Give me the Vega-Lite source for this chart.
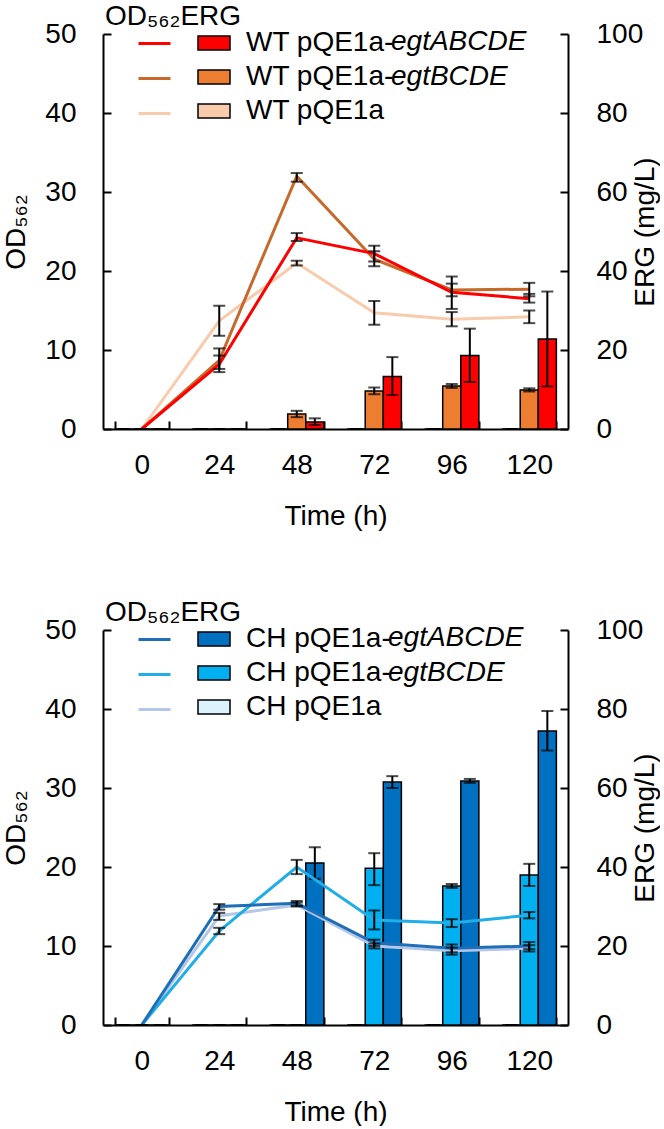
{
  "$schema": "https://vega.github.io/schema/vega-lite/v6.json",
  "padding": {"left": 2, "top": 3, "right": 0, "bottom": 0},
  "config": {
    "font": "Liberation Sans",
    "view": {"stroke": null},
    "axis": {"labelFont": "Liberation Sans", "labelFontSize": 28, "labelColor": "black", "titleFont": "Liberation Sans", "titleFontSize": 28, "titleFontWeight": "normal", "titleColor": "black", "domainColor": "black", "domainWidth": 2, "tickColor": "black", "tickWidth": 2, "grid": false, "labelOverlap": false},
    "legend": {"labelFont": "Liberation Sans", "titleFont": "Liberation Sans", "labelFontSize": 28, "titleFontSize": 28, "titleFontWeight": "normal", "labelColor": "black", "titleColor": "black", "padding": 0, "rowPadding": 3, "labelLimit": 400, "titleLimit": 400}
  },
  "datasets": {
    "wt_erg": [
      {"time": 0, "strain": "WT pQE1a", "gene": "WT control", "erg": 0, "lo": 0, "hi": 0},
      {"time": 0, "strain": "WT pQE1a-egtBCDE", "gene": "egtBCDE", "erg": 0, "lo": 0, "hi": 0},
      {"time": 0, "strain": "WT pQE1a-egtABCDE", "gene": "egtABCDE", "erg": 0, "lo": 0, "hi": 0},
      {"time": 24, "strain": "WT pQE1a", "gene": "WT control", "erg": 0, "lo": 0, "hi": 0},
      {"time": 24, "strain": "WT pQE1a-egtBCDE", "gene": "egtBCDE", "erg": 0, "lo": 0, "hi": 0},
      {"time": 24, "strain": "WT pQE1a-egtABCDE", "gene": "egtABCDE", "erg": 0, "lo": 0, "hi": 0},
      {"time": 48, "strain": "WT pQE1a", "gene": "WT control", "erg": 0, "lo": 0, "hi": 0},
      {"time": 48, "strain": "WT pQE1a-egtBCDE", "gene": "egtBCDE", "erg": 3.8, "lo": 3.0, "hi": 4.6},
      {"time": 48, "strain": "WT pQE1a-egtABCDE", "gene": "egtABCDE", "erg": 1.8, "lo": 1.0, "hi": 2.7},
      {"time": 72, "strain": "WT pQE1a", "gene": "WT control", "erg": 0, "lo": 0, "hi": 0},
      {"time": 72, "strain": "WT pQE1a-egtBCDE", "gene": "egtBCDE", "erg": 9.6, "lo": 8.8, "hi": 10.5},
      {"time": 72, "strain": "WT pQE1a-egtABCDE", "gene": "egtABCDE", "erg": 13.3, "lo": 8.6, "hi": 18.2},
      {"time": 96, "strain": "WT pQE1a", "gene": "WT control", "erg": 0, "lo": 0, "hi": 0},
      {"time": 96, "strain": "WT pQE1a-egtBCDE", "gene": "egtBCDE", "erg": 10.9, "lo": 10.4, "hi": 11.4},
      {"time": 96, "strain": "WT pQE1a-egtABCDE", "gene": "egtABCDE", "erg": 18.6, "lo": 11.9, "hi": 25.4},
      {"time": 120, "strain": "WT pQE1a", "gene": "WT control", "erg": 0, "lo": 0, "hi": 0},
      {"time": 120, "strain": "WT pQE1a-egtBCDE", "gene": "egtBCDE", "erg": 9.9, "lo": 9.5, "hi": 10.3},
      {"time": 120, "strain": "WT pQE1a-egtABCDE", "gene": "egtABCDE", "erg": 22.8, "lo": 10.8, "hi": 34.8}
    ],
    "wt_od": [
      {"time": 0, "line": "WT-C", "od": 0, "lo": 0, "hi": 0},
      {"time": 24, "line": "WT-C", "od": 13.7, "lo": 11.8, "hi": 15.6},
      {"time": 48, "line": "WT-C", "od": 21.0, "lo": 20.7, "hi": 21.3},
      {"time": 72, "line": "WT-C", "od": 14.7, "lo": 13.2, "hi": 16.2},
      {"time": 96, "line": "WT-C", "od": 13.9, "lo": 13.0, "hi": 14.8},
      {"time": 120, "line": "WT-C", "od": 14.2, "lo": 13.4, "hi": 15.0},
      {"time": 0, "line": "WT-B", "od": 0, "lo": 0, "hi": 0},
      {"time": 24, "line": "WT-B", "od": 8.7, "lo": 7.2, "hi": 10.2},
      {"time": 48, "line": "WT-B", "od": 32.0, "lo": 31.3, "hi": 32.4},
      {"time": 72, "line": "WT-B", "od": 21.5, "lo": 20.6, "hi": 22.5},
      {"time": 96, "line": "WT-B", "od": 17.6, "lo": 16.8, "hi": 18.4},
      {"time": 120, "line": "WT-B", "od": 17.7, "lo": 16.8, "hi": 18.5},
      {"time": 0, "line": "WT-A", "od": 0, "lo": 0, "hi": 0},
      {"time": 24, "line": "WT-A", "od": 8.2, "lo": 7.6, "hi": 9.3},
      {"time": 48, "line": "WT-A", "od": 24.2, "lo": 23.8, "hi": 24.8},
      {"time": 72, "line": "WT-A", "od": 22.2, "lo": 21.2, "hi": 23.2},
      {"time": 96, "line": "WT-A", "od": 17.3, "lo": 15.2, "hi": 19.3},
      {"time": 120, "line": "WT-A", "od": 16.5, "lo": 16.0, "hi": 17.1}
    ],
    "ch_erg": [
      {"time": 0, "strain": "CH pQE1a", "gene": "CH control", "erg": 0, "lo": 0, "hi": 0},
      {"time": 0, "strain": "CH pQE1a-egtBCDE", "gene": "egtBCDE ", "erg": 0, "lo": 0, "hi": 0},
      {"time": 0, "strain": "CH pQE1a-egtABCDE", "gene": "egtABCDE ", "erg": 0, "lo": 0, "hi": 0},
      {"time": 24, "strain": "CH pQE1a", "gene": "CH control", "erg": 0, "lo": 0, "hi": 0},
      {"time": 24, "strain": "CH pQE1a-egtBCDE", "gene": "egtBCDE ", "erg": 0, "lo": 0, "hi": 0},
      {"time": 24, "strain": "CH pQE1a-egtABCDE", "gene": "egtABCDE ", "erg": 0, "lo": 0, "hi": 0},
      {"time": 48, "strain": "CH pQE1a", "gene": "CH control", "erg": 0, "lo": 0, "hi": 0},
      {"time": 48, "strain": "CH pQE1a-egtBCDE", "gene": "egtBCDE ", "erg": 0, "lo": 0, "hi": 0},
      {"time": 48, "strain": "CH pQE1a-egtABCDE", "gene": "egtABCDE ", "erg": 41.0, "lo": 37.0, "hi": 45.0},
      {"time": 72, "strain": "CH pQE1a", "gene": "CH control", "erg": 0, "lo": 0, "hi": 0},
      {"time": 72, "strain": "CH pQE1a-egtBCDE", "gene": "egtBCDE ", "erg": 39.7, "lo": 35.4, "hi": 43.5},
      {"time": 72, "strain": "CH pQE1a-egtABCDE", "gene": "egtABCDE ", "erg": 61.5, "lo": 60.0, "hi": 63.0},
      {"time": 96, "strain": "CH pQE1a", "gene": "CH control", "erg": 0, "lo": 0, "hi": 0},
      {"time": 96, "strain": "CH pQE1a-egtBCDE", "gene": "egtBCDE ", "erg": 35.2, "lo": 34.7, "hi": 35.7},
      {"time": 96, "strain": "CH pQE1a-egtABCDE", "gene": "egtABCDE ", "erg": 61.8, "lo": 61.3, "hi": 62.3},
      {"time": 120, "strain": "CH pQE1a", "gene": "CH control", "erg": 0, "lo": 0, "hi": 0},
      {"time": 120, "strain": "CH pQE1a-egtBCDE", "gene": "egtBCDE ", "erg": 38.0, "lo": 35.2, "hi": 40.8},
      {"time": 120, "strain": "CH pQE1a-egtABCDE", "gene": "egtABCDE ", "erg": 74.4, "lo": 69.5, "hi": 79.5}
    ],
    "ch_od": [
      {"time": 0, "line": "CH-C", "od": 0, "lo": 0, "hi": 0},
      {"time": 24, "line": "CH-C", "od": 13.8, "lo": 13.3, "hi": 14.2},
      {"time": 48, "line": "CH-C", "od": 15.2, "lo": 15.0, "hi": 15.5},
      {"time": 72, "line": "CH-C", "od": 10.0, "lo": 9.7, "hi": 10.3},
      {"time": 96, "line": "CH-C", "od": 9.4, "lo": 8.9, "hi": 9.8},
      {"time": 120, "line": "CH-C", "od": 9.7, "lo": 9.3, "hi": 10.1},
      {"time": 0, "line": "CH-B", "od": 0, "lo": 0, "hi": 0},
      {"time": 24, "line": "CH-B", "od": 11.9, "lo": 11.5, "hi": 12.3},
      {"time": 48, "line": "CH-B", "od": 20.0, "lo": 19.1, "hi": 20.9},
      {"time": 72, "line": "CH-B", "od": 13.3, "lo": 12.1, "hi": 14.5},
      {"time": 96, "line": "CH-B", "od": 12.9, "lo": 12.4, "hi": 13.4},
      {"time": 120, "line": "CH-B", "od": 13.9, "lo": 13.5, "hi": 14.3},
      {"time": 0, "line": "CH-A", "od": 0, "lo": 0, "hi": 0},
      {"time": 24, "line": "CH-A", "od": 15.0, "lo": 14.6, "hi": 15.3},
      {"time": 48, "line": "CH-A", "od": 15.4, "lo": 15.1, "hi": 15.7},
      {"time": 72, "line": "CH-A", "od": 10.4, "lo": 10.0, "hi": 10.8},
      {"time": 96, "line": "CH-A", "od": 9.7, "lo": 9.2, "hi": 10.2},
      {"time": 120, "line": "CH-A", "od": 10.0, "lo": 9.6, "hi": 10.5}
    ]
  },
  "spacing": 69,
  "resolve": {
    "scale": {"x": "independent", "y": "independent", "xOffset": "independent", "fill": "independent", "stroke": "independent", "opacity": "independent"},
    "legend": {"fill": "independent", "stroke": "independent", "opacity": "independent"}
  },
  "vconcat": [
    {
      "width": 465,
      "height": 395,
      "resolve": {"scale": {"y": "independent"}},
      "layer": [
        {
          "data": {"name": "wt_erg"},
          "layer": [
            {
              "mark": {"type": "bar", "stroke": "black", "strokeWidth": 1.5},
              "encoding": {
                "x": {"field": "time", "type": "ordinal", "scale": {"paddingInner": 0.3, "paddingOuter": 0.15}, "axis": {"title": "Time (h)", "labelAngle": 0, "ticks": true, "tickBand": "extent", "tickSize": -8, "labelPadding": 30, "titlePadding": 23}},
                "xOffset": {"field": "strain", "type": "nominal", "scale": {"domain": ["WT pQE1a", "WT pQE1a-egtBCDE", "WT pQE1a-egtABCDE"], "paddingInner": 0, "paddingOuter": 0}},
                "y": {"field": "erg", "type": "quantitative", "scale": {"domain": [0, 100]}, "axis": {"orient": "right", "title": "ERG (mg/L)", "values": [0, 20, 40, 60, 80, 100], "tickSize": -8, "labelPadding": 36, "titleAngle": 270, "titleBaseline": "top", "titlePadding": -11}},
                "fill": {"field": "strain", "type": "nominal", "scale": {"domain": ["WT pQE1a-egtABCDE", "WT pQE1a-egtBCDE", "WT pQE1a"], "range": ["#FF0000", "#ED7D31", "#F8CBAD"]}, "legend": {"orient": "none", "legendX": 94, "legendY": -8, "title": null, "symbolType": "M-1,-0.44L1,-0.44L1,0.44L-1,0.44Z", "symbolSize": 1024, "symbolStrokeColor": "black", "symbolStrokeWidth": 1.5, "symbolOpacity": 1, "labelOffset": 15, "labelExpr": "indexof(datum.label,'-')>=0 ? slice(datum.label,0,indexof(datum.label,'-')+1) : datum.label"}},
                "opacity": {"field": "gene", "type": "nominal", "scale": {"domain": ["egtABCDE", "egtBCDE", "WT control"], "range": [1, 1, 1]}, "legend": {"orient": "none", "legendX": 245, "legendY": -6, "title": null, "symbolSize": 0, "symbolStrokeWidth": 0, "rowPadding": 7, "labelOffset": 15, "labelFontStyle": "italic", "labelExpr": "indexof(datum.label,'egt') == 0 ? datum.label : ''"}}
              }
            },
            {
              "mark": {"type": "rule", "color": "black", "strokeWidth": 2},
              "encoding": {
                "x": {"field": "time", "type": "ordinal", "axis": {"title": "Time (h)"}},
                "xOffset": {"field": "strain", "type": "nominal"},
                "y": {"field": "lo", "type": "quantitative", "axis": {"title": "ERG (mg/L)"}},
                "y2": {"field": "hi"}
              }
            },
            {
              "mark": {"type": "tick", "color": "black", "thickness": 2, "size": 12, "orient": "horizontal"},
              "encoding": {
                "x": {"field": "time", "type": "ordinal", "axis": {"title": "Time (h)"}},
                "xOffset": {"field": "strain", "type": "nominal"},
                "y": {"field": "hi", "type": "quantitative", "axis": {"title": "ERG (mg/L)"}}
              }
            },
            {
              "mark": {"type": "tick", "color": "black", "thickness": 2, "size": 12, "orient": "horizontal"},
              "encoding": {
                "x": {"field": "time", "type": "ordinal", "axis": {"title": "Time (h)"}},
                "xOffset": {"field": "strain", "type": "nominal"},
                "y": {"field": "lo", "type": "quantitative", "axis": {"title": "ERG (mg/L)"}}
              }
            }
          ]
        },
        {
          "data": {"name": "wt_od"},
          "layer": [
            {
              "mark": {"type": "line", "strokeWidth": 3},
              "encoding": {
                "x": {"field": "time", "type": "ordinal", "axis": {"title": "Time (h)"}},
                "y": {"field": "od", "type": "quantitative", "scale": {"domain": [0, 50]}, "axis": {"orient": "left", "title": "OD₅₆₂", "values": [0, 10, 20, 30, 40, 50], "tickSize": -8, "labelPadding": 35, "titlePadding": 14}},
                "stroke": {"field": "line", "type": "nominal", "scale": {"domain": ["WT-A", "WT-B", "WT-C"], "range": ["#FF0000", "#C8692C", "#F8CBAD"]}, "legend": {"orient": "none", "legendX": 2, "legendY": -31, "title": "OD₅₆₂ERG", "titlePadding": -5, "symbolType": "stroke", "symbolSize": 1024, "symbolStrokeWidth": 3, "symbolOffset": 32, "labelOffset": 0, "labelExpr": "''"}}
              }
            },
            {
              "mark": {"type": "rule", "color": "black", "strokeWidth": 2},
              "encoding": {
                "x": {"field": "time", "type": "ordinal", "axis": {"title": "Time (h)"}},
                "y": {"field": "lo", "type": "quantitative", "axis": {"title": "OD₅₆₂"}},
                "y2": {"field": "hi"}
              }
            },
            {
              "mark": {"type": "tick", "color": "black", "thickness": 2, "size": 12, "orient": "horizontal"},
              "encoding": {
                "x": {"field": "time", "type": "ordinal", "axis": {"title": "Time (h)"}},
                "y": {"field": "hi", "type": "quantitative", "axis": {"title": "OD₅₆₂"}}
              }
            },
            {
              "mark": {"type": "tick", "color": "black", "thickness": 2, "size": 12, "orient": "horizontal"},
              "encoding": {
                "x": {"field": "time", "type": "ordinal", "axis": {"title": "Time (h)"}},
                "y": {"field": "lo", "type": "quantitative", "axis": {"title": "OD₅₆₂"}}
              }
            }
          ]
        }
      ]
    },
    {
      "width": 465,
      "height": 395,
      "resolve": {"scale": {"y": "independent"}},
      "layer": [
        {
          "data": {"name": "ch_erg"},
          "layer": [
            {
              "mark": {"type": "bar", "stroke": "black", "strokeWidth": 1.5},
              "encoding": {
                "x": {"field": "time", "type": "ordinal", "scale": {"paddingInner": 0.3, "paddingOuter": 0.15}, "axis": {"title": "Time (h)", "labelAngle": 0, "ticks": true, "tickBand": "extent", "tickSize": -8, "labelPadding": 30, "titlePadding": 23}},
                "xOffset": {"field": "strain", "type": "nominal", "scale": {"domain": ["CH pQE1a", "CH pQE1a-egtBCDE", "CH pQE1a-egtABCDE"], "paddingInner": 0, "paddingOuter": 0}},
                "y": {"field": "erg", "type": "quantitative", "scale": {"domain": [0, 100]}, "axis": {"orient": "right", "title": "ERG (mg/L)", "values": [0, 20, 40, 60, 80, 100], "tickSize": -8, "labelPadding": 36, "titleAngle": 270, "titleBaseline": "top", "titlePadding": -11}},
                "fill": {"field": "strain", "type": "nominal", "scale": {"domain": ["CH pQE1a-egtABCDE", "CH pQE1a-egtBCDE", "CH pQE1a"], "range": ["#0070C0", "#00B0F0", "#DAF3FC"]}, "legend": {"orient": "none", "legendX": 94, "legendY": -8, "title": null, "symbolType": "M-1,-0.44L1,-0.44L1,0.44L-1,0.44Z", "symbolSize": 1024, "symbolStrokeColor": "black", "symbolStrokeWidth": 1.5, "symbolOpacity": 1, "labelOffset": 15, "labelExpr": "indexof(datum.label,'-')>=0 ? slice(datum.label,0,indexof(datum.label,'-')+1) : datum.label"}},
                "opacity": {"field": "gene", "type": "nominal", "scale": {"domain": ["egtABCDE ", "egtBCDE ", "CH control"], "range": [1, 1, 1]}, "legend": {"orient": "none", "legendX": 242, "legendY": -6, "title": null, "symbolSize": 0, "symbolStrokeWidth": 0, "rowPadding": 7, "labelOffset": 15, "labelFontStyle": "italic", "labelExpr": "indexof(datum.label,'egt') == 0 ? datum.label : ''"}}
              }
            },
            {
              "mark": {"type": "rule", "color": "black", "strokeWidth": 2},
              "encoding": {
                "x": {"field": "time", "type": "ordinal", "axis": {"title": "Time (h)"}},
                "xOffset": {"field": "strain", "type": "nominal"},
                "y": {"field": "lo", "type": "quantitative", "axis": {"title": "ERG (mg/L)"}},
                "y2": {"field": "hi"}
              }
            },
            {
              "mark": {"type": "tick", "color": "black", "thickness": 2, "size": 12, "orient": "horizontal"},
              "encoding": {
                "x": {"field": "time", "type": "ordinal", "axis": {"title": "Time (h)"}},
                "xOffset": {"field": "strain", "type": "nominal"},
                "y": {"field": "hi", "type": "quantitative", "axis": {"title": "ERG (mg/L)"}}
              }
            },
            {
              "mark": {"type": "tick", "color": "black", "thickness": 2, "size": 12, "orient": "horizontal"},
              "encoding": {
                "x": {"field": "time", "type": "ordinal", "axis": {"title": "Time (h)"}},
                "xOffset": {"field": "strain", "type": "nominal"},
                "y": {"field": "lo", "type": "quantitative", "axis": {"title": "ERG (mg/L)"}}
              }
            }
          ]
        },
        {
          "data": {"name": "ch_od"},
          "layer": [
            {
              "mark": {"type": "line", "strokeWidth": 3},
              "encoding": {
                "x": {"field": "time", "type": "ordinal", "axis": {"title": "Time (h)"}},
                "y": {"field": "od", "type": "quantitative", "scale": {"domain": [0, 50]}, "axis": {"orient": "left", "title": "OD₅₆₂", "values": [0, 10, 20, 30, 40, 50], "tickSize": -8, "labelPadding": 35, "titlePadding": 14}},
                "stroke": {"field": "line", "type": "nominal", "scale": {"domain": ["CH-A", "CH-B", "CH-C"], "range": ["#1F6FB8", "#1FAEE8", "#B4C7E7"]}, "legend": {"orient": "none", "legendX": 2, "legendY": -31, "title": "OD₅₆₂ERG", "titlePadding": -5, "symbolType": "stroke", "symbolSize": 1024, "symbolStrokeWidth": 3, "symbolOffset": 32, "labelOffset": 0, "labelExpr": "''"}}
              }
            },
            {
              "mark": {"type": "rule", "color": "black", "strokeWidth": 2},
              "encoding": {
                "x": {"field": "time", "type": "ordinal", "axis": {"title": "Time (h)"}},
                "y": {"field": "lo", "type": "quantitative", "axis": {"title": "OD₅₆₂"}},
                "y2": {"field": "hi"}
              }
            },
            {
              "mark": {"type": "tick", "color": "black", "thickness": 2, "size": 12, "orient": "horizontal"},
              "encoding": {
                "x": {"field": "time", "type": "ordinal", "axis": {"title": "Time (h)"}},
                "y": {"field": "hi", "type": "quantitative", "axis": {"title": "OD₅₆₂"}}
              }
            },
            {
              "mark": {"type": "tick", "color": "black", "thickness": 2, "size": 12, "orient": "horizontal"},
              "encoding": {
                "x": {"field": "time", "type": "ordinal", "axis": {"title": "Time (h)"}},
                "y": {"field": "lo", "type": "quantitative", "axis": {"title": "OD₅₆₂"}}
              }
            }
          ]
        }
      ]
    }
  ]
}
